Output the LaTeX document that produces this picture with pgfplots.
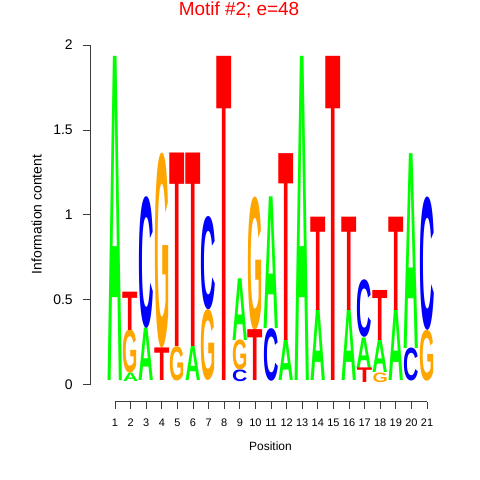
\documentclass[border=0pt]{standalone}
\usepackage{pgfplots}
\pgfplotsset{compat=1.18}
\usepackage{pgfplotstable}
\usepackage{graphicx}
\usepackage{fontspec}
\setmainfont{Liberation Sans}
\definecolor{lA}{RGB}{0,255,0}
\definecolor{lC}{RGB}{0,0,255}
\definecolor{lG}{RGB}{255,165,0}
\definecolor{lT}{RGB}{255,0,0}
\definecolor{axgray}{RGB}{60,60,60}
\newlength\yu \setlength\yu{169.6bp}
\newlength\lw \setlength\lw{15.4bp}

\pgfplotstableread{
x base h
1 0.020 1.910
2 0.015 0.050
3 0.020 0.310
6 0.020 0.202
9 0.261 0.364
11 0.330 0.776
12 0.020 0.241
13 0.020 1.910
14 0.020 0.418
16 0.020 0.418
17 0.096 0.180
18 0.067 0.194
19 0.020 0.418
20 0.214 1.148
}\tabA
\pgfplotstableread{
x base h
3 0.330 0.776
7 0.438 0.550
9 0.015 0.069
11 0.020 0.310
17 0.276 0.339
20 0.020 0.194
21 0.320 0.786
}\tabC
\pgfplotstableread{
x base h
2 0.065 0.255
4 0.212 1.150
5 0.020 0.202
7 0.020 0.418
9 0.084 0.177
10 0.320 0.786
18 0.010 0.057
21 0.020 0.300
}\tabG
\pgfplotstableread{
x base h
2 0.320 0.226
4 0.020 0.192
5 0.222 1.140
6 0.222 1.140
8 0.020 1.910
10 0.020 0.300
12 0.261 1.101
14 0.438 0.550
15 0.020 1.910
16 0.438 0.550
17 0.010 0.086
18 0.261 0.295
19 0.438 0.550
}\tabT

\pgfplotsset{
  logo/.style n args={2}{
    draw=none, mark=none,
    point meta=explicit symbolic,
    nodes near coords={\resizebox*{\lw}{\pgfplotspointmeta\yu}{\bfseries #1}},
    every node near coord/.style={anchor=south, inner sep=0pt, outer sep=0pt, text=#2},
  },
}

\begin{document}
\begin{tikzpicture}
\useasboundingbox (0,0) rectangle (480bp,480bp);
\begin{axis}[
  at={(90.7bp,78.3bp)}, anchor=south west,
  scale only axis, width=344.1bp, height=356.6bp,
  xmin=-0.558, xmax=21.5, ymin=-0.1026, ymax=2,
  clip=false,
  axis x line=bottom, axis y line=left,
  axis line style={-, axgray, line width=0.75bp},
  x axis line style={shorten <=24.3bp, shorten >=7.8bp},
  y axis line style={shorten <=17.4bp},
  xtick={1,...,21}, ytick={0,0.5,1,1.5,2},
  yticklabels={0,0.5,1,1.5,2},
  tick align=outside, major tick length=7.5bp,
  tick style={axgray, line width=0.75bp},
  /pgf/number format/assume math mode=true,
  x tick label style={font=\fontsize{11}{13}\selectfont, yshift=-6.5bp},
  y tick label style={font=\fontsize{14}{16}\selectfont, xshift=-7bp},
  xlabel={Position},
  ylabel={Information content},
  xlabel style={font=\fontsize{12}{14}\selectfont, at={(axis description cs:0.5225,-0.126)}, anchor=center},
  ylabel style={font=\fontsize{14}{16}\selectfont, at={(axis description cs:-0.157,0.525)}, anchor=center},
]
\addplot[logo={A}{lA}] table[x=x, y=base, meta=h] {\tabA};
\addplot[logo={C}{lC}] table[x=x, y=base, meta=h] {\tabC};
\addplot[logo={G}{lG}] table[x=x, y=base, meta=h] {\tabG};
\addplot[logo={T}{lT}] table[x=x, y=base, meta=h] {\tabT};
\end{axis}
\node[text=red, font=\fontsize{19}{22}\selectfont, anchor=center] at (239bp,470.5bp) {Motif \#2; e=48};
\end{tikzpicture}
\end{document}
